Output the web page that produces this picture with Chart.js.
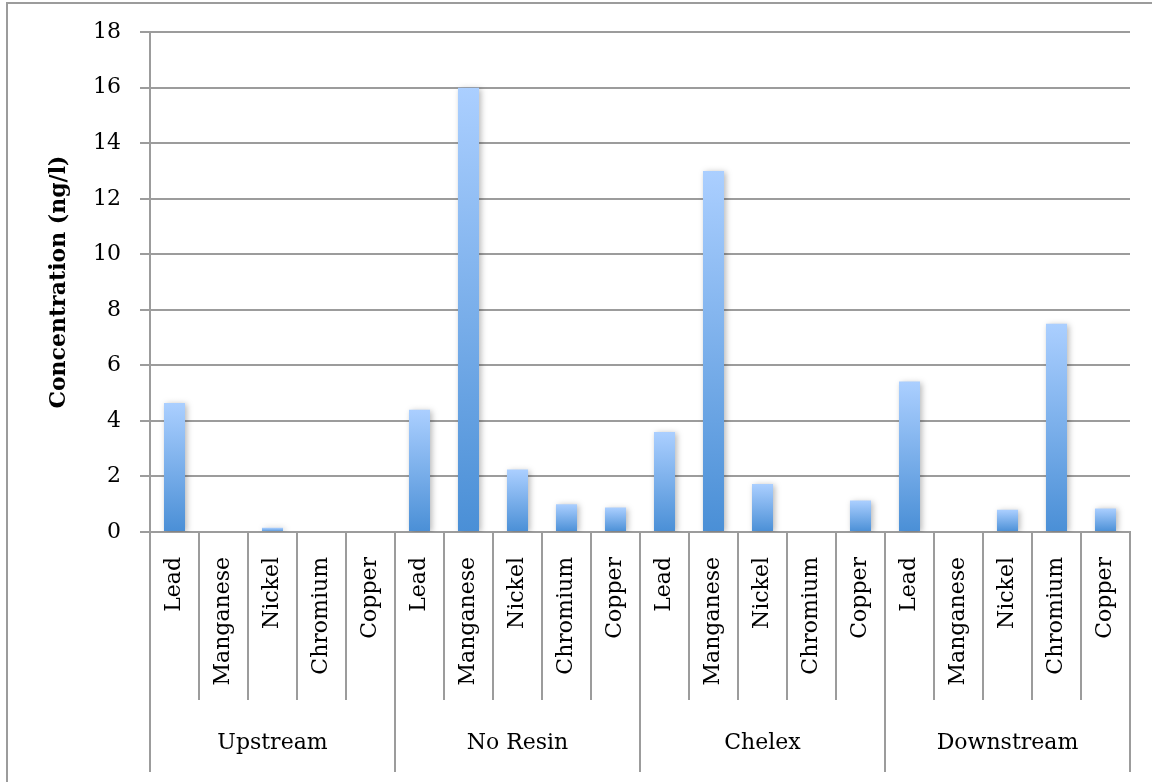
<!DOCTYPE html>
<html>
<head>
<meta charset="utf-8">
<script src="https://cdn.jsdelivr.net/npm/chart.js@4/dist/chart.umd.min.js"></script>
<style>
  html, body { margin: 0; padding: 0; background: #fff; }
  #wrap { width: 1152px; height: 782px; position: relative; }
</style>
</head>
<body>
<div id="wrap"><canvas id="c" width="1152" height="782"></canvas></div>
<script>
// Sampling sites (outer category row) and metals (inner category row)
const sites = ['Upstream', 'No Resin', 'Chelex', 'Downstream'];
const metals = ['Lead', 'Manganese', 'Nickel', 'Chromium', 'Copper'];

// Concentration (ng/l) per metal, in the order of `metals`
const upstream   = [4.65, 0,    0.15, 0,    0];
const noResin    = [4.4,  16.0, 2.25, 1.0,  0.88];
const chelex     = [3.6,  13.0, 1.73, 0,    1.13];
const downstream = [5.42, 0,    0.8,  7.5,  0.85];

// Value axis ticks
const yTicks = [0, 2, 4, 6, 8, 10, 12, 14, 16, 18];

const FONT = 'DejaVu Serif';
const GRID = '#9c9c9c';

const labels = [];
sites.forEach(() => metals.forEach(m => labels.push(m)));
const values = [].concat(upstream, noResin, chelex, downstream);

// White page background plus the frame around the whole figure
const framePlugin = {
  id: 'frame',
  beforeDraw(chart) {
    const c = chart.ctx;
    c.save();
    c.fillStyle = '#fff';
    c.fillRect(0, 0, chart.width, chart.height);
    c.strokeStyle = GRID;
    c.lineWidth = 2;
    c.strokeRect(7, 3, chart.width + 20, chart.height + 20);
    c.restore();
  }
};

// Soft drop shadow under the bars
const shadowPlugin = {
  id: 'barShadow',
  beforeDatasetsDraw(chart) {
    const c = chart.ctx;
    c.save();
    c.shadowColor = 'rgba(0,0,0,0.28)';
    c.shadowBlur = 6;
    c.shadowOffsetX = 2;
    c.shadowOffsetY = 1;
  },
  afterDatasetsDraw(chart) {
    chart.ctx.restore();
  }
};

// Divider lines of the two-level category axis
const dividerPlugin = {
  id: 'dividers',
  afterDraw(chart) {
    const xs = chart.scales.x, x2 = chart.scales.x2, y = chart.scales.y;
    const base = y.getPixelForValue(0);
    const half = (xs.getPixelForValue(1) - xs.getPixelForValue(0)) / 2;
    const c = chart.ctx;
    c.save();
    c.strokeStyle = GRID;
    c.lineWidth = 2;
    for (let i = 0; i <= labels.length; i++) {
      const px = i < labels.length ? xs.getPixelForValue(i) - half
                                   : xs.getPixelForValue(labels.length - 1) + half;
      const end = (i % metals.length === 0) ? x2.bottom : xs.bottom;
      c.beginPath();
      c.moveTo(px, base);
      c.lineTo(px, end);
      c.stroke();
    }
    c.restore();
  }
};

function barFill(ctx) {
  const chart = ctx.chart;
  const y = chart.scales && chart.scales.y;
  if (!ctx.parsed || !y) return '#7fb0ea';
  const top = y.getPixelForValue(ctx.parsed.y);
  const bottom = y.getPixelForValue(0);
  if (!isFinite(top) || !isFinite(bottom)) return '#7fb0ea';
  if (bottom - top < 1) return '#a9cdff';
  const g = chart.ctx.createLinearGradient(0, top, 0, bottom);
  g.addColorStop(0, '#abcfff');
  g.addColorStop(1, '#4a8fd6');
  return g;
}

new Chart(document.getElementById('c'), {
  type: 'bar',
  data: {
    labels: labels,
    datasets: [{
      data: values,
      backgroundColor: barFill,
      borderWidth: 0,
      barPercentage: 0.43,
      categoryPercentage: 1.0
    }]
  },
  options: {
    responsive: false,
    animation: false,
    layout: { padding: { left: 8, right: 22, top: 20, bottom: 10 } },
    plugins: {
      legend: { display: false },
      tooltip: { enabled: false }
    },
    scales: {
      x: {
        type: 'category',
        offset: true,
        grid: { display: false, drawTicks: false },
        border: { display: true, color: GRID, width: 2 },
        ticks: {
          autoSkip: false,
          minRotation: 90,
          maxRotation: 90,
          padding: 25,
          color: '#000',
          font: { family: FONT, size: 22 }
        },
        afterFit(s) { s.height = 168; s.paddingLeft = 0; s.paddingRight = 0; }
      },
      x2: {
        type: 'category',
        labels: sites,
        position: 'bottom',
        offset: true,
        grid: { display: false, drawTicks: false },
        border: { display: false },
        ticks: {
          padding: 30,
          color: '#000',
          font: { family: FONT, size: 22 }
        },
        afterFit(s) { s.height = 72; s.paddingLeft = 0; s.paddingRight = 0; }
      },
      y: {
        min: 0,
        max: 18,
        afterBuildTicks(s) { s.ticks = yTicks.map(v => ({ value: v })); },
        grid: { color: GRID, lineWidth: 2, tickLength: 10 },
        border: { color: GRID, width: 2 },
        ticks: {
          padding: 19,
          color: '#000',
          font: { family: FONT, size: 22 }
        },
        title: {
          display: true,
          text: 'Concentration (ng/l)',
          color: '#000',
          font: { family: FONT, size: 22, weight: 'bold' },
          padding: { top: 38, bottom: 0 }
        },
        afterFit(s) { s.width = 142; }
      }
    }
  },
  plugins: [framePlugin, shadowPlugin, dividerPlugin]
});
</script>
</body>
</html>
